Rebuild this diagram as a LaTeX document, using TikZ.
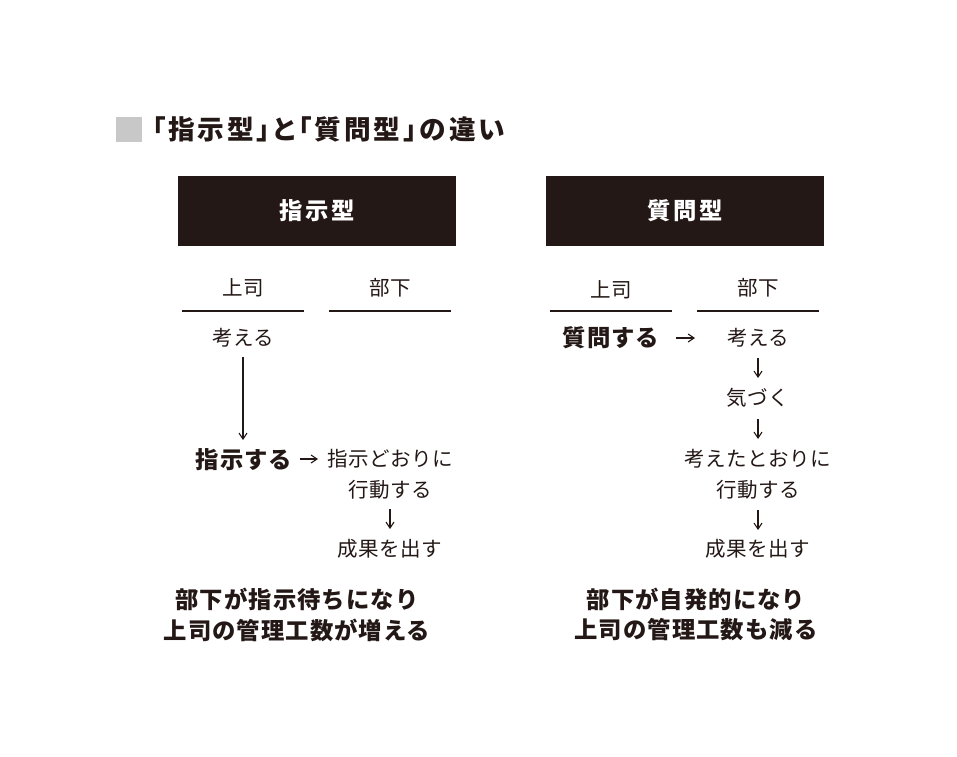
\documentclass[tikz,border=0pt]{standalone}
\usepackage{fontspec}
\setmainfont{Noto Sans CJK JP}
\newfontfamily\titlefont{Noto Sans CJK JP}[RawFeature=+palt,LetterSpace=11]
\usetikzlibrary{arrows.meta}
\definecolor{ink}{HTML}{231815}
\definecolor{sq}{HTML}{C8C8C8}
\begin{document}
\begin{tikzpicture}[x=0.75pt,y=-0.75pt,
  every node/.style={inner sep=0pt,outer sep=0pt,text=ink},
  body/.style={font=\fontsize{15.4pt}{18pt}\selectfont\addfontfeatures{LetterSpace=2}},
  strong/.style={font=\fontsize{17.5pt}{20pt}\selectfont\bfseries\addfontfeatures{LetterSpace=4.5}},
  boxhead/.style={fill=ink,minimum width=278*0.75pt,minimum height=70*0.75pt,text=white,font=\fontsize{17.5pt}{20pt}\selectfont\bfseries\addfontfeatures{LetterSpace=12}},
  rule/.style={draw=ink,line width=0.8pt},
  arr/.style={draw=ink,line width=0.8pt,-{Straight Barb[length=4.5pt,width=6pt]}}
]
\useasboundingbox (0,0) rectangle (957,757);
% title
\fill[sq] (116,117) rectangle (142,142);
\node[anchor=west,font=\titlefont\fontsize{20pt}{24pt}\selectfont\bfseries] (title) at (152,129) {「指示型」と「質問型」の違い};
% headers
\node[boxhead] (hA) at (317,211) {指示型};
\node[boxhead] (hB) at (685,211) {質問型};
% column labels
\node[body] (a1) at (243,288) {上司};
\node[body] (a2) at (390,288) {部下};
\node[body] (b1) at (611,290) {上司};
\node[body] (b2) at (758,288) {部下};
\draw[rule] (182,311) -- (304,311);
\draw[rule] (329,311) -- (451,311);
\draw[rule] (550,311) -- (672,311);
\draw[rule] (697,311) -- (819,311);
% left flow
\node[body] (l1) at (243,338) {考える};
\node[strong] (l2) at (244,460) {指示する};
\node[body] (l3) at (390,459) {指示どおりに};
\node[body] (l4) at (390,490) {行動する};
\node[body] (l5) at (390,549) {成果を出す};
\draw[arr] (243,357) -- (243,440);
\draw[arr] (300,459) -- (318,459);
\draw[arr] (390,509) -- (390,529);
% right flow
\node[strong] (r1) at (611,338) {質問する};
\node[body] (r2) at (758,338) {考える};
\node[body] (r3) at (758,398) {気づく};
\node[body] (r4) at (758,459) {考えたとおりに};
\node[body] (r5) at (758,490) {行動する};
\node[body] (r6) at (758,549) {成果を出す};
\draw[arr] (676,338) -- (695,338);
\draw[arr] (758,358) -- (758,378);
\draw[arr] (758,419) -- (758,439);
\draw[arr] (758,510) -- (758,530);
% conclusions
\node[strong] (c1) at (297,599) {部下が指示待ちになり};
\node[strong] (c2) at (297,630) {上司の管理工数が増える};
\node[strong] (d1) at (696,599) {部下が自発的になり};
\node[strong] (d2) at (696,630) {上司の管理工数も減る};
\end{tikzpicture}
\end{document}
